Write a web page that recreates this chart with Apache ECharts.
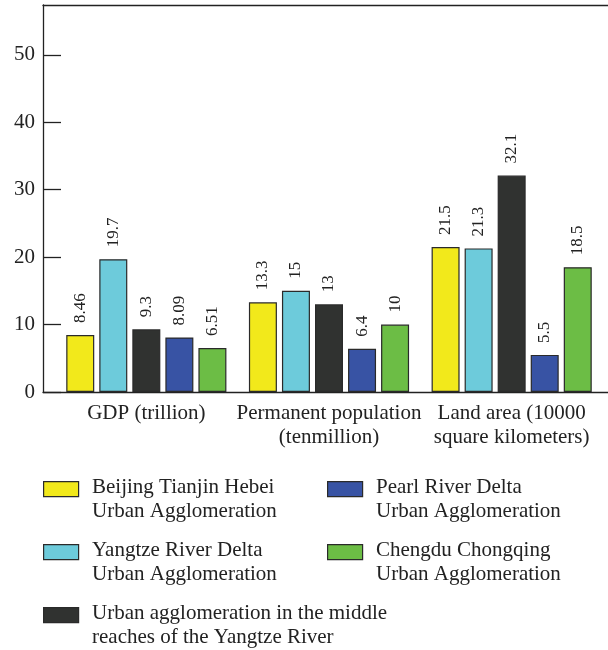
<!DOCTYPE html>
<html>
<head>
<meta charset="utf-8">
<script src="https://cdn.jsdelivr.net/npm/echarts@6/dist/echarts.min.js"></script>
<style>
  html, body { margin: 0; padding: 0; background: #fff; }
  #chart { width: 608px; height: 650px; }
</style>
</head>
<body>
<div id="chart"></div>
<script>
// Indicators compared across the five urban agglomerations
const categories = [
  'GDP (trillion)',
  'Permanent population\n(tenmillion)',
  'Land area (10000\nsquare kilometers)'
];
const seriesNames = [
  'Beijing Tianjin Hebei\nUrban Agglomeration',
  'Yangtze River Delta\nUrban Agglomeration',
  'Urban agglomeration in the middle\nreaches of the Yangtze River',
  'Pearl River Delta\nUrban Agglomeration',
  'Chengdu Chongqing\nUrban Agglomeration'
];
const beijingTianjinHebei = [8.46, 13.3, 21.5];
const yangtzeRiverDelta   = [19.7, 15, 21.3];
const middleYangtze       = [9.3, 13, 32.1];
const pearlRiverDelta     = [8.09, 6.4, 5.5];
const chengduChongqing    = [6.51, 10, 18.5];
const yTicks = [0, 10, 20, 30, 40, 50];

const seriesValues = [beijingTianjinHebei, yangtzeRiverDelta, middleYangtze, pearlRiverDelta, chengduChongqing];
const colors = ['#F2E91B', '#6DCBDB', '#303230', '#3853A4', '#6CBD45'];
const FONT = 'Liberation Serif';
const INK = '#222';
const AXIS_LINE = { color: INK, width: 1.3 };

const chart = echarts.init(document.getElementById('chart'), null, { renderer: 'canvas' });

const series = seriesValues.map((vals, i) => ({
  name: seriesNames[i],
  type: 'bar',
  xAxisIndex: 0,
  yAxisIndex: 0,
  data: vals,
  barWidth: 28,
  barGap: '18%',
  itemStyle: { color: colors[i], borderColor: '#2a2a2a', borderWidth: 1.2 },
  label: {
    show: true,
    position: 'top',
    rotate: 90,
    align: 'left',
    verticalAlign: 'middle',
    distance: 12,
    fontFamily: FONT,
    fontSize: 17,
    color: INK,
    formatter: p => String(p.value)
  }
}));

// Two-column key below the plot: swatch beside a two-line caption
const keySlots = [
  { x: 43, y: 481 }, { x: 43, y: 544 }, { x: 43, y: 607 },
  { x: 327, y: 481 }, { x: 327, y: 544 }
];
const keyGraphics = [];
seriesNames.forEach((name, i) => {
  const s = keySlots[i];
  keyGraphics.push({
    type: 'rect',
    left: s.x, top: s.y,
    shape: { width: 35, height: 15 },
    style: { fill: colors[i], stroke: '#2a2a2a', lineWidth: 1.2 }
  });
  keyGraphics.push({
    type: 'text',
    left: s.x + 49, top: s.y - 6,
    style: {
      text: name,
      fontFamily: FONT,
      fontSize: 21,
      fill: INK,
      lineHeight: 24
    }
  });
});

// Hidden axis used only to draw the frame's top and bottom rules
const frameAxis = (pos) => ({
  type: 'value',
  gridIndex: 1,
  position: pos,
  min: 0,
  max: 1,
  axisLine: { show: true, onZero: false, lineStyle: AXIS_LINE },
  axisTick: { show: false },
  axisLabel: { show: false },
  splitLine: { show: false }
});

chart.setOption({
  animation: false,
  color: colors,
  textStyle: { fontFamily: FONT },
  grid: [
    { left: 55, right: 5, top: 5, bottom: 258, containLabel: false },
    { left: 43, right: 0, top: 5, bottom: 258, containLabel: false }
  ],
  graphic: keyGraphics,
  xAxis: [
    {
      type: 'category',
      gridIndex: 0,
      data: categories,
      axisLine: { show: false },
      axisTick: { show: false },
      axisLabel: {
        interval: 0,
        fontFamily: FONT,
        fontSize: 21,
        color: INK,
        lineHeight: 24,
        margin: 9
      }
    },
    frameAxis('bottom'),
    frameAxis('top')
  ],
  yAxis: [
    {
      type: 'value',
      gridIndex: 0,
      offset: 12,
      min: 0,
      max: 57.4,
      interval: 10,
      axisLine: { show: true, lineStyle: AXIS_LINE },
      axisTick: { show: true, inside: true, length: 18, lineStyle: AXIS_LINE },
      splitLine: { show: false },
      axisLabel: {
        showMaxLabel: false,
        fontFamily: FONT,
        fontSize: 21,
        color: INK,
        margin: 8,
        formatter: v => (yTicks.indexOf(v) >= 0 ? String(v) : '')
      }
    },
    {
      type: 'value',
      gridIndex: 1,
      show: false,
      min: 0,
      max: 1
    }
  ],
  series: series
});
</script>
</body>
</html>
